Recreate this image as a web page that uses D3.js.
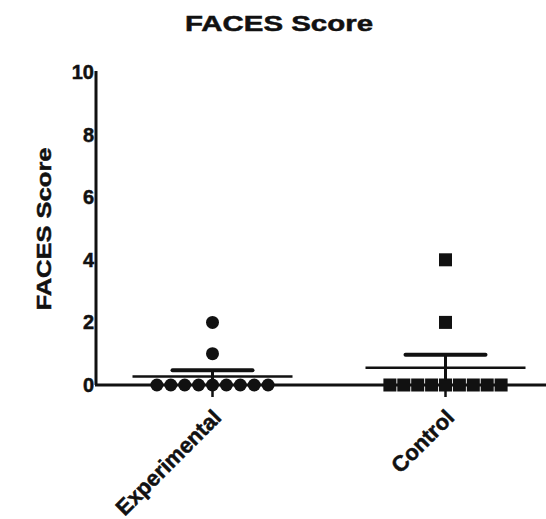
<!DOCTYPE html>
<html>
<head>
<meta charset="utf-8">
<script src="https://cdn.jsdelivr.net/npm/d3@7"></script>
<style>
  body { margin: 0; background: #fff; }
  svg { display: block; font-family: "Liberation Sans", Arial, sans-serif; }
</style>
</head>
<body>
<svg id="chart" width="546" height="519"></svg>
<script>
// Данные графика
const categories = ['Experimental', 'Control'];
const experimentalValues = [0, 0, 0, 0, 0, 0, 0, 0, 0, 1, 2];
const controlValues = [0, 0, 0, 0, 0, 0, 0, 0, 0, 2, 4];
const groupMeans = [0.27, 0.55];
const groupSem = [0.2, 0.42];
const yTicks = [0, 2, 4, 6, 8, 10];

const groups = [experimentalValues, controlValues];

const svg = d3.select('#chart');
const ink = '#111';

// Жирный текст чуть утолщаем обводкой
function heavy(sel, size) {
    return sel.style('font-size', size + 'px').style('font-weight', 'bold')
        .attr('fill', ink).attr('stroke', ink).attr('stroke-width', 0.5);
}

// Шкалы
const x = d3.scalePoint().domain(categories).range([212.5, 445.5]);
const y = d3.scaleLinear().domain([0, 10]).range([385, 72]);

// Заголовок (шрифт в оригинале шире, растягиваем)
heavy(svg.append('text')
    .attr('x', 279).attr('y', 31)
    .attr('text-anchor', 'middle')
    .attr('textLength', 188).attr('lengthAdjust', 'spacingAndGlyphs')
    .text('FACES Score'), 22);

// Подпись оси Y
heavy(svg.append('text')
    .attr('transform', 'translate(51,229) rotate(-90)')
    .attr('text-anchor', 'middle')
    .attr('textLength', 163).attr('lengthAdjust', 'spacingAndGlyphs')
    .text('FACES Score'), 21);

// Ось Y
const yAxis = svg.append('g')
    .attr('transform', 'translate(96,0)')
    .call(d3.axisLeft(y).tickValues(yTicks).tickSize(0).tickPadding(2));
yAxis.select('.domain').attr('stroke', ink).attr('stroke-width', 3)
    .attr('d', `M0,${y(10) - 1}V${y(0)}`);
heavy(yAxis.selectAll('text'), 20);

// Ось X
svg.append('line')
    .attr('x1', 95).attr('x2', 546)
    .attr('y1', y(0)).attr('y2', y(0))
    .attr('stroke', ink).attr('stroke-width', 3);

svg.selectAll('.xtick')
    .data(categories)
    .enter().append('line')
    .attr('x1', d => x(d)).attr('x2', d => x(d))
    .attr('y1', y(0)).attr('y2', y(0) + 12)
    .attr('stroke', ink).attr('stroke-width', 2.5);

heavy(svg.selectAll('.xlabel')
    .data(categories)
    .enter().append('text')
    .attr('transform', d => `translate(${x(d) + 10},${y(0) + 34}) rotate(-45)`)
    .attr('text-anchor', 'end')
    .text(d => d), 22);

// Точки: нули раскладываются по горизонтали
const spread = 13.9;
groups.forEach((vals, gi) => {
    const cx = x(categories[gi]);
    const zeros = vals.filter(v => v === 0);
    const pts = [];
    let zi = 0;
    vals.forEach(v => {
        if (v === 0) {
            pts.push({ x: cx + (zi - (zeros.length - 1) / 2) * spread, v });
            zi++;
        } else {
            pts.push({ x: cx, v });
        }
    });

    const g = svg.append('g');
    if (gi === 0) {
        g.selectAll('circle').data(pts).enter().append('circle')
            .attr('cx', d => d.x).attr('cy', d => y(d.v))
            .attr('r', 6.5).attr('fill', ink);
    } else {
        g.selectAll('rect').data(pts).enter().append('rect')
            .attr('x', d => d.x - 6.5).attr('y', d => y(d.v) - 6.5)
            .attr('width', 13).attr('height', 13).attr('fill', ink);
    }

    // Среднее и SEM
    const m = groupMeans[gi], s = groupSem[gi];
    svg.append('line')
        .attr('x1', cx - 80).attr('x2', cx + 80)
        .attr('y1', y(m)).attr('y2', y(m))
        .attr('stroke', ink).attr('stroke-width', 2.5);
    svg.append('line')
        .attr('x1', cx).attr('x2', cx)
        .attr('y1', y(m - s)).attr('y2', y(m + s))
        .attr('stroke', ink).attr('stroke-width', 3);
    svg.append('line')
        .attr('x1', cx - 40).attr('x2', cx + 40)
        .attr('y1', y(m + s)).attr('y2', y(m + s))
        .attr('stroke', ink).attr('stroke-width', 4)
        .attr('stroke-linecap', 'round');
});
</script>
</body>
</html>
